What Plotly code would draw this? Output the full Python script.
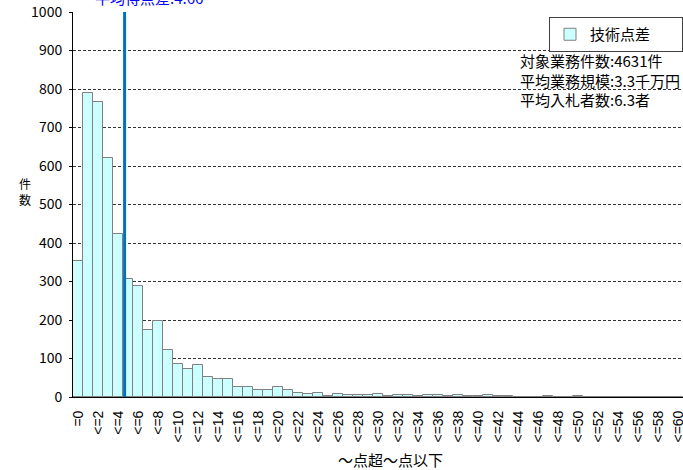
import plotly.graph_objects as go

# categories: "=0", "<=1", ..., "<=60"
categories = ["=0"] + [f"<={i}" for i in range(1, 61)]
counts = [352, 790, 766, 620, 423, 306, 288, 174, 197, 122,
          85, 74, 84, 52, 47, 47, 27, 25, 19, 19,
          25, 19, 10, 7, 10, 3, 7, 4, 4, 4,
          7, 2, 4, 4, 2, 5, 5, 2, 5, 2,
          2, 5, 2, 2, 1, 1, 1, 3, 1, 1,
          2, 1, 0, 1, 0, 0, 1, 0, 0, 0, 0]
tick_labels = categories[::2]
series_name = "技術点差"
avg_diff = 4.66
avg_label = "平均得点差:4.66"
info_lines = ["対象業務件数:4631件", "平均業務規模:3.3千万円", "平均入札者数:6.3者"]
y_ticks = list(range(0, 1001, 100))

JP = "Noto Sans CJK JP"

fig = go.Figure()
fig.add_trace(go.Bar(
    x=categories, y=counts, name=series_name + "\u00a0" * 8,
    marker=dict(color="#CCFFFF", line=dict(color="#808080", width=1)),
    width=1.0, showlegend=True,
))

fig.add_shape(type="line", xref="x", yref="paper", x0=avg_diff, x1=avg_diff,
              y0=0, y1=1, line=dict(color="#0070C0", width=3))

fig.add_annotation(text=avg_label, xref="paper", yref="paper", x=0.033, y=1,
                   xanchor="left", yanchor="bottom", yshift=2, showarrow=False,
                   font=dict(family=JP, size=15, color="#0000FF"))

fig.add_annotation(text="<br>".join(info_lines), xref="paper", yref="paper",
                   x=(518 - 73) / 610, y=(397 - 80) / 385, align="left",
                   xanchor="left", yanchor="middle", showarrow=False,
                   font=dict(family=JP, size=15, color="#000000"))

fig.add_annotation(text="件<br>数", xref="paper", yref="paper", x=(25 - 73) / 610,
                   y=0.5 + 13 / 385, xanchor="center", yanchor="middle", showarrow=False,
                   font=dict(family=JP, size=12, color="#000000"))

fig.add_annotation(text="～点超～点以下", xref="paper", yref="paper",
                   x=(390 - 73) / 610, y=-(459 - 397) / 385,
                   xanchor="center", yanchor="middle", showarrow=False,
                   font=dict(family=JP, size=15, color="#000000"))

fig.update_layout(
    width=683, height=470,
    margin=dict(l=73, r=0, t=12, b=73, autoexpand=False),
    paper_bgcolor="white", plot_bgcolor="white",
    font=dict(family=JP, color="#000000"),
    bargap=0,
    legend=dict(x=1, xanchor="right", y=(397 - 17) / 385, yanchor="top",
                bordercolor="#404040", borderwidth=1, bgcolor="white",
                font=dict(family=JP, size=15), itemwidth=30),
    xaxis=dict(type="category", range=[-0.5, 60.5], automargin=False,
               tickmode="array", tickvals=tick_labels, ticktext=tick_labels,
               tickangle=-90, tickfont=dict(family="Liberation Sans", size=14),
               showgrid=False, showline=True, linecolor="#000000", linewidth=1,
               ticks="", ticklabelstandoff=7),
    yaxis=dict(range=[0, 1000], tickmode="array", tickvals=y_ticks, automargin=False,
               tickfont=dict(family=JP, size=14),
               showgrid=True, gridcolor="#333333", griddash="3px,2px", gridwidth=1,
               showline=True, linecolor="#000000", linewidth=1,
               ticks="outside", ticklen=3, tickcolor="#000000",
               zeroline=False, ticklabelstandoff=4),
)

fig.write_html("out.html", config={"displayModeBar": False},
               post_script="document.body.style.margin='0';")
